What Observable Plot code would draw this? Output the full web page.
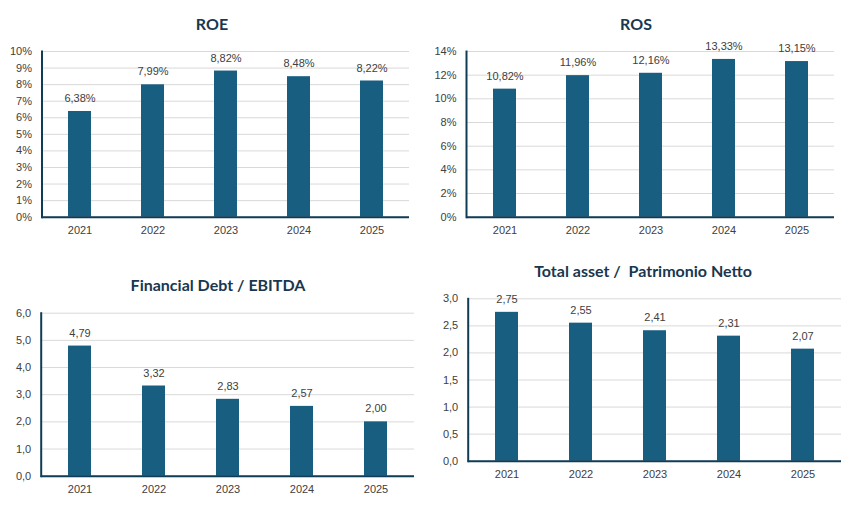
<!DOCTYPE html>
<html>
<head>
<meta charset="utf-8">
<script src="https://cdn.jsdelivr.net/npm/d3@7"></script>
<script src="https://cdn.jsdelivr.net/npm/@observablehq/plot@0.6"></script>
<style>
  html, body { margin: 0; padding: 0; background: #fff; }
  #root { position: relative; width: 857px; height: 520px; overflow: hidden; background: #fff; }
  .panel { position: absolute; }
  .title { position: absolute; width: 400px; text-align: center; font-family: Lato, "Open Sans", sans-serif; font-weight: 700; font-size: 16px; line-height: 20px; color: #19374f; white-space: pre; }
</style>
</head>
<body>
<div id="root"></div>
<script>
const years = ["2021", "2022", "2023", "2024", "2025"];
const roe = [6.38, 7.99, 8.82, 8.48, 8.22];
const ros = [10.82, 11.96, 12.16, 13.33, 13.15];
const debtEbitda = [4.79, 3.32, 2.83, 2.57, 2.00];
const assetEquity = [2.75, 2.55, 2.41, 2.31, 2.07];
const titles = ["ROE", "ROS", "Financial Debt / EBITDA", "Total asset /  Patrimonio Netto"];
const roeTicks = [0, 1, 2, 3, 4, 5, 6, 7, 8, 9, 10];
const rosTicks = [0, 2, 4, 6, 8, 10, 12, 14];
const debtTicks = [0, 1, 2, 3, 4, 5, 6];
const assetTicks = [0, 0.5, 1, 1.5, 2, 2.5, 3];

const comma = (v, d) => v.toFixed(d).replace(".", ",");
const pctTick = d => d + "%";
const pctLabel = d => comma(d, 2) + "%";
const numTick = d => comma(d, 1);
const numLabel = d => comma(d, 2);

const root = document.getElementById("root");

function panel(cfg) {
  const data = years.map((year, i) => ({year, value: cfg.values[i]}));
  const marginLeft = cfg.plotLeft - cfg.left;
  const marginRight = cfg.left + cfg.width - cfg.plotRight;
  const marginTop = cfg.plotTop - cfg.top;
  const marginBottom = cfg.top + cfg.height - cfg.plotBottom;
  const svg = Plot.plot({
    width: cfg.width,
    height: cfg.height,
    marginLeft, marginRight, marginTop, marginBottom,
    style: {fontFamily: "'Liberation Sans', Arial, sans-serif", fontSize: "11px", color: "#404040", background: "transparent", overflow: "visible"},
    x: {domain: years, paddingInner: 0.69, paddingOuter: 0.345, align: 0.5, label: null},
    y: {domain: cfg.domain, label: null},
    marks: [
      Plot.gridY(cfg.ticks, {stroke: "#d9d9d9", strokeOpacity: 1, strokeWidth: 1}),
      Plot.barY(data, {x: "year", y: "value", fill: "#175e80"}),
      Plot.ruleY([0], {stroke: "#0f3d55", strokeWidth: 2}),
      Plot.frame({anchor: "left", stroke: "#0f3d55", strokeWidth: 2}),
      Plot.axisY(cfg.ticks, {tickSize: 0, tickPadding: 10, tickFormat: cfg.tickFormat, fill: "#404040"}),
      Plot.axisX({tickSize: 0, tickPadding: 9, fill: "#404040"}),
      Plot.text(data, {x: "year", y: "value", text: d => cfg.labelFormat(d.value), dy: -13, fill: "#404040"})
    ]
  });
  const wrap = document.createElement("div");
  wrap.className = "panel";
  wrap.style.left = cfg.left + "px";
  wrap.style.top = cfg.top + "px";
  wrap.appendChild(svg);
  root.appendChild(wrap);

  const t = document.createElement("div");
  t.className = "title";
  t.textContent = cfg.title;
  t.style.left = (cfg.titleX - 200) + "px";
  t.style.top = (cfg.titleY - 10) + "px";
  root.appendChild(t);
}

panel({left: 0, top: 36, width: 420, height: 210, plotLeft: 41.5, plotRight: 409, plotTop: 51, plotBottom: 216.7,
  values: roe, domain: [0, 10], ticks: roeTicks, tickFormat: pctTick, labelFormat: pctLabel, title: titles[0], titleX: 212, titleY: 24});
panel({left: 420, top: 36, width: 437, height: 210, plotLeft: 466, plotRight: 834, plotTop: 51, plotBottom: 216.7,
  values: ros, domain: [0, 14], ticks: rosTicks, tickFormat: pctTick, labelFormat: pctLabel, title: titles[1], titleX: 636, titleY: 24});
panel({left: 0, top: 296, width: 420, height: 210, plotLeft: 40.7, plotRight: 414, plotTop: 312.7, plotBottom: 475.7,
  values: debtEbitda, domain: [0, 6], ticks: debtTicks, tickFormat: numTick, labelFormat: numLabel, title: titles[2], titleX: 218, titleY: 285});
panel({left: 420, top: 282, width: 437, height: 205, plotLeft: 467.7, plotRight: 841, plotTop: 298.3, plotBottom: 460.7,
  values: assetEquity, domain: [0, 3], ticks: assetTicks, tickFormat: numTick, labelFormat: numLabel, title: titles[3], titleX: 643, titleY: 271});
</script>
</body>
</html>
